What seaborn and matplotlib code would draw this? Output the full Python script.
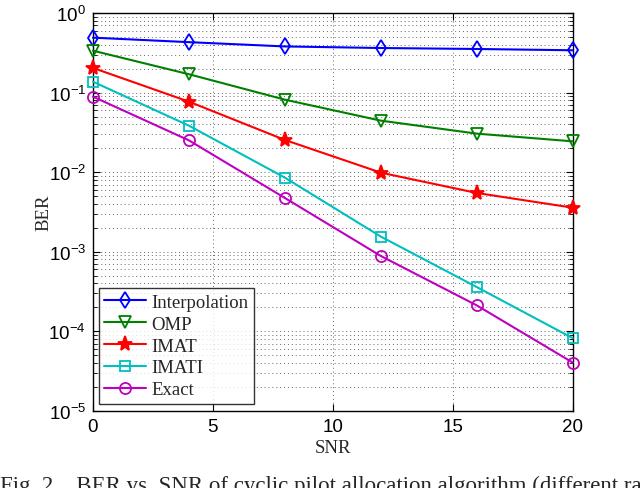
import numpy as np
import pandas as pd
import seaborn as sns
import matplotlib
matplotlib.use("Agg")
import matplotlib.pyplot as plt
from matplotlib.ticker import LogLocator, NullFormatter, FixedLocator

snr = [0, 4, 8, 12, 16, 20]
interpolation = [0.49, 0.43, 0.38, 0.363, 0.353, 0.34]
omp = [0.336, 0.17, 0.0815, 0.0444, 0.0305, 0.0244]
imat = [0.204, 0.0769, 0.0254, 0.00986, 0.00548, 0.00358]
imati = [0.137, 0.0384, 0.00853, 0.00155, 0.00036, 0.000082]
exact = [0.0889, 0.0251, 0.00474, 0.000885, 0.000212, 0.0000405]

names = ["Interpolation", "OMP", "IMAT", "IMATI", "Exact"]
series = [interpolation, omp, imat, imati, exact]
colors = ["#0000ff", "#008000", "#ff0000", "#00bfbf", "#bf00bf"]
markers = ["d", "v", "*", "s", "o"]
msizes = [8, 8, 11, 7, 8]

sns.set_theme(style="white")
plt.rcParams["font.family"] = ["Liberation Sans", "DejaVu Sans"]

fig = plt.figure(figsize=(6.4, 4.89), dpi=100)
ax = fig.add_axes([0.1453, 0.1575, 0.7497, 0.8139])

for name, vals, c, m, ms in zip(names, series, colors, markers, msizes):
    df = pd.DataFrame({"SNR": snr, "BER": vals})
    fc = c if m == "*" else "none"
    sns.lineplot(data=df, x="SNR", y="BER", ax=ax, color=c, marker=m,
                 markersize=ms, markerfacecolor=fc, markeredgecolor=c,
                 markeredgewidth=1.3, linewidth=1.5, label=name, clip_on=False, zorder=5)

ax.set_yscale("log")
ax.set_xlim(0, 20)
ax.set_ylim(1e-5, 1)
ax.xaxis.set_major_locator(FixedLocator([0, 5, 10, 15, 20]))
ax.yaxis.set_major_locator(LogLocator(base=10, numticks=10))
ax.yaxis.set_minor_locator(LogLocator(base=10, subs=np.arange(2, 10), numticks=20))
ax.yaxis.set_minor_formatter(NullFormatter())

gstyle = dict(linestyle=(0, (1, 3)), color="#666666", linewidth=0.7)
ax.grid(True, which="major", axis="both", **gstyle)
ax.grid(True, which="minor", axis="y", **gstyle)
ax.set_axisbelow(True)

ax.tick_params(which="both", direction="in", top=True, right=True, bottom=True, left=True,
               labelsize=13.5, colors="black")
ax.tick_params(which="major", length=5, width=0.8, pad=5)
ax.tick_params(which="minor", length=3, width=0.6)
for s in ax.spines.values():
    s.set_color("black")
    s.set_linewidth(1.0)

ax.set_xlabel("SNR", family=["Liberation Serif"], fontsize=13.5, labelpad=3)
ax.set_ylabel("BER", family=["Liberation Serif"], fontsize=13.5, labelpad=-3)

leg = ax.legend(loc="lower left", bbox_to_anchor=(0.012, 0.018), frameon=True, fancybox=False,
                edgecolor="black", prop={"family": "Liberation Serif", "size": 13.5},
                handlelength=2.2, handletextpad=0.3, borderpad=0.3, labelspacing=0.25,
                borderaxespad=0.0)
leg.get_frame().set_linewidth(1.0)
leg.set_zorder(10)

fig.text(0.0, -0.006, "Fig. 2.   BER vs. SNR of cyclic pilot allocation algorithm (different ra",
         family=["Liberation Serif"], fontsize=16.5, va="baseline", ha="left")

fig.savefig("out.png", dpi=100)
